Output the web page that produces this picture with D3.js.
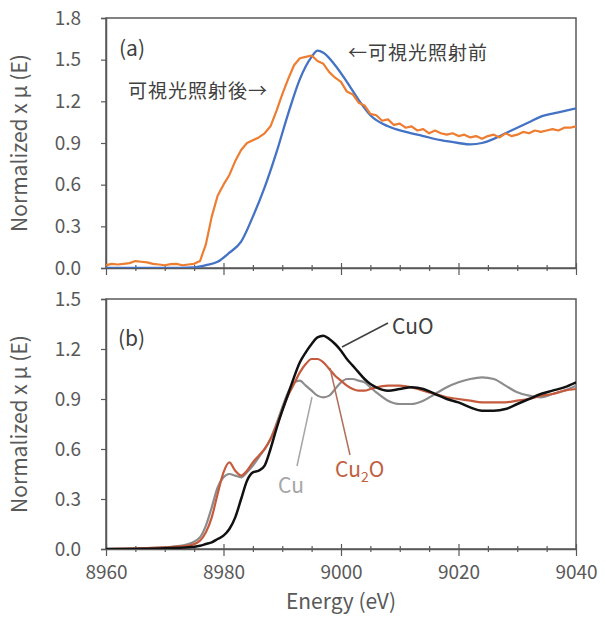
<!DOCTYPE html>
<html>
<head>
<meta charset="utf-8">
<script src="https://cdn.jsdelivr.net/npm/d3@7"></script>
<style>
  body { margin: 0; background: #fff; }
  text { font-family: "Noto Sans CJK JP", "Noto Sans", sans-serif; }
</style>
</head>
<body>
<svg id="chart" width="605" height="618"></svg>
<script>
// ---- data ----
const xTicks = [8960, 8980, 9000, 9020, 9040];
const yTicksA = [0, 0.3, 0.6, 0.9, 1.2, 1.5, 1.8];
const yTicksB = [0, 0.3, 0.6, 0.9, 1.2, 1.5];

// (a) before irradiation (blue)
const beforeE = [8960, 8965, 8970, 8975, 8977, 8979, 8981, 8983, 8985, 8987, 8989, 8991, 8993, 8995, 8996, 8997, 8999, 9001, 9003, 9005, 9008, 9011, 9014, 9017, 9020, 9022, 9024, 9026, 9028, 9030, 9032, 9034, 9037, 9040];
const beforeV = [0, 0, 0, 0.005, 0.02, 0.045, 0.11, 0.19, 0.37, 0.58, 0.83, 1.11, 1.36, 1.52, 1.565, 1.55, 1.46, 1.34, 1.21, 1.1, 1.02, 0.98, 0.95, 0.92, 0.9, 0.89, 0.9, 0.93, 0.97, 1.01, 1.05, 1.09, 1.12, 1.15];

// (a) after irradiation (orange, noisy)
const afterE = [8960, 8961, 8962, 8963, 8964, 8965, 8966, 8967, 8968, 8969, 8970, 8971, 8972, 8973, 8974, 8975, 8976, 8977, 8978, 8979, 8980, 8981, 8982, 8983, 8984, 8985, 8986, 8987, 8988, 8989, 8990, 8991, 8992, 8993, 8994, 8995, 8996, 8997, 8998, 8999, 9000, 9001, 9002, 9003, 9004, 9005, 9006, 9007, 9008, 9009, 9010, 9011, 9012, 9013, 9014, 9015, 9016, 9017, 9018, 9019, 9020, 9021, 9022, 9023, 9024, 9025, 9026, 9027, 9028, 9029, 9030, 9031, 9032, 9033, 9034, 9035, 9036, 9037, 9038, 9039, 9040];
const afterV = [0.02, 0.03, 0.025, 0.03, 0.035, 0.05, 0.045, 0.04, 0.03, 0.025, 0.02, 0.028, 0.03, 0.02, 0.025, 0.03, 0.05, 0.17, 0.37, 0.52, 0.6, 0.67, 0.77, 0.85, 0.9, 0.92, 0.94, 0.97, 1.02, 1.13, 1.25, 1.36, 1.46, 1.51, 1.52, 1.53, 1.49, 1.47, 1.41, 1.37, 1.34, 1.27, 1.25, 1.19, 1.17, 1.11, 1.1, 1.06, 1.07, 1.03, 1.04, 1.01, 1.02, 0.99, 1.0, 0.97, 0.99, 0.97, 0.96, 0.97, 0.95, 0.96, 0.94, 0.95, 0.93, 0.95, 0.96, 0.94, 0.97, 0.95, 0.96, 0.98, 0.97, 0.99, 0.98, 0.99, 1.0, 0.99, 1.01, 1.01, 1.02];

// (b) references
const refE = [8960, 8970, 8974, 8976, 8977, 8978, 8979, 8980, 8981, 8982, 8983, 8984, 8985, 8986, 8987, 8988, 8989, 8990, 8991, 8992, 8993, 8994, 8995, 8996, 8997, 8998, 8999, 9000, 9001, 9002, 9003, 9004, 9005, 9006, 9008, 9010, 9012, 9014, 9016, 9018, 9020, 9022, 9024, 9026, 9028, 9030, 9032, 9034, 9036, 9038, 9040];
const cuV   = [0, 0.01, 0.03, 0.07, 0.14, 0.25, 0.37, 0.43, 0.45, 0.44, 0.43, 0.46, 0.5, 0.55, 0.6, 0.66, 0.75, 0.85, 0.94, 1.0, 1.01, 0.98, 0.95, 0.92, 0.91, 0.92, 0.96, 1.0, 1.02, 1.02, 1.01, 1.0, 0.97, 0.94, 0.89, 0.87, 0.87, 0.89, 0.93, 0.97, 1.0, 1.02, 1.03, 1.02, 0.98, 0.94, 0.92, 0.91, 0.93, 0.95, 0.98];
const cu2oV = [0, 0.01, 0.02, 0.05, 0.1, 0.19, 0.33, 0.46, 0.52, 0.47, 0.44, 0.47, 0.52, 0.56, 0.6, 0.66, 0.74, 0.83, 0.92, 0.99, 1.06, 1.11, 1.14, 1.14, 1.12, 1.08, 1.04, 1.01, 0.98, 0.96, 0.95, 0.95, 0.96, 0.97, 0.98, 0.98, 0.97, 0.95, 0.93, 0.91, 0.9, 0.89, 0.88, 0.88, 0.88, 0.89, 0.9, 0.92, 0.93, 0.95, 0.96];
const cuoV  = [0, 0.005, 0.01, 0.02, 0.03, 0.04, 0.06, 0.08, 0.12, 0.19, 0.3, 0.41, 0.46, 0.47, 0.5, 0.6, 0.72, 0.83, 0.93, 1.03, 1.12, 1.18, 1.23, 1.27, 1.28, 1.26, 1.23, 1.19, 1.14, 1.1, 1.06, 1.02, 0.99, 0.97, 0.95, 0.96, 0.97, 0.96, 0.93, 0.9, 0.88, 0.85, 0.83, 0.83, 0.84, 0.87, 0.9, 0.93, 0.95, 0.97, 1.0];

// ---- layout ----
const svg = d3.select("#chart");
const frameCol = "#595959";
const textCol = "#595959";

const x = d3.scaleLinear().domain([8960, 9040]).range([106, 576]);
const yA = d3.scaleLinear().domain([0, 1.8]).range([268, 18]);
const yB = d3.scaleLinear().domain([0, 1.5]).range([549, 299]);

function drawPanel(y, yTicks, showX, id) {
  let g = svg.append("g");
  let [yb, yt] = y.range();

  g.append("clipPath").attr("id", id)
    .append("rect")
    .attr("x", x.range()[0]).attr("y", yt)
    .attr("width", x.range()[1] - x.range()[0]).attr("height", yb - yt);

  // frame
  g.append("rect")
    .attr("x", x.range()[0]).attr("y", yt)
    .attr("width", x.range()[1] - x.range()[0]).attr("height", yb - yt)
    .attr("fill", "none").attr("stroke", frameCol).attr("stroke-width", 1.5);

  // y axis
  let ya = g.append("g")
    .attr("transform", "translate(" + x.range()[0] + ",0)")
    .call(d3.axisLeft(y).tickValues(yTicks).tickSize(5).tickFormat(d3.format(".1f")));
  ya.select(".domain").attr("stroke", frameCol).attr("stroke-width", 1.5);
  ya.selectAll(".tick line").attr("stroke", frameCol).attr("stroke-width", 1.2);
  ya.selectAll(".tick text")
    .attr("x", -25).attr("fill", textCol)
    .style("font-size", "19px");

  // x axis (minor every 5 eV, major every 20 eV, crossing ticks)
  let xa = g.append("g")
    .attr("transform", "translate(0," + yb + ")")
    .call(d3.axisBottom(x).tickValues(d3.range(8960, 9041, 5)).tickSize(0)
      .tickFormat(d => (showX && xTicks.includes(d)) ? d : ""));
  xa.select(".domain").attr("stroke", frameCol).attr("stroke-width", 1.5);
  xa.selectAll(".tick line")
    .attr("stroke", frameCol).attr("stroke-width", 1.2)
    .attr("y1", d => xTicks.includes(d) ? -5 : -3)
    .attr("y2", d => xTicks.includes(d) ? 7 : 3);
  xa.selectAll(".tick text")
    .attr("y", 17).attr("fill", textCol)
    .style("font-size", "19px");

  // y title
  g.append("text")
    .attr("transform", "translate(27," + ((yb + yt) / 2) + ") rotate(-90)")
    .attr("text-anchor", "middle")
    .attr("fill", textCol)
    .style("font-size", "21px")
    .text("Normalized x μ (E)");

  return g;
}

let gA = drawPanel(yA, yTicksA, false, "clipA");
let gB = drawPanel(yB, yTicksB, true, "clipB");

function addLine(g, y, xs, vs, color, width, curve, clip) {
  let pts = xs.map((e, i) => [e, vs[i]]);
  let line = d3.line().x(d => x(d[0])).y(d => y(d[1])).curve(curve);
  g.append("path")
    .datum(pts)
    .attr("clip-path", "url(#" + clip + ")")
    .attr("d", line)
    .attr("fill", "none")
    .attr("stroke", color)
    .attr("stroke-width", width)
    .attr("stroke-linejoin", "round");
}

// panel (a)
addLine(gA, yA, beforeE, beforeV, "#4472C4", 2.3, d3.curveMonotoneX, "clipA");
addLine(gA, yA, afterE, afterV, "#ED7D31", 2.2, d3.curveLinear, "clipA");

// panel (b)
addLine(gB, yB, refE, cuV, "#8C8C8C", 2.2, d3.curveMonotoneX, "clipB");
addLine(gB, yB, refE, cu2oV, "#C55A3C", 2.2, d3.curveMonotoneX, "clipB");
addLine(gB, yB, refE, cuoV, "#111111", 2.5, d3.curveMonotoneX, "clipB");

// panel labels
svg.append("text").attr("x", 119).attr("y", 56).attr("fill", "#404040")
  .style("font-size", "21px").text("(a)");
svg.append("text").attr("x", 118).attr("y", 346).attr("fill", "#404040")
  .style("font-size", "21px").text("(b)");

// annotations (a)
svg.append("text").attr("x", 128).attr("y", 98).attr("fill", "#404040")
  .style("font-size", "19px").style("letter-spacing", "1px").text("可視光照射後→");
svg.append("text").attr("x", 348).attr("y", 60).attr("fill", "#404040")
  .style("font-size", "19px").style("letter-spacing", "1px").text("←可視光照射前");

// annotations (b)
svg.append("line").attr("x1", 342).attr("y1", 347).attr("x2", 388).attr("y2", 323)
  .attr("stroke", "#404040").attr("stroke-width", 1.5);
svg.append("text").attr("x", 392).attr("y", 334).attr("fill", "#404040")
  .style("font-size", "21px").text("CuO");

svg.append("line").attr("x1", 330).attr("y1", 368).attr("x2", 350).attr("y2", 455)
  .attr("stroke", "#B0705A").attr("stroke-width", 1.5);
let cu2o = svg.append("text").attr("x", 335).attr("y", 477).attr("fill", "#C0603F")
  .style("font-size", "21px");
cu2o.append("tspan").text("Cu");
cu2o.append("tspan").attr("dy", 5).style("font-size", "14px").text("2");
cu2o.append("tspan").attr("dy", -5).text("O");

svg.append("line").attr("x1", 312).attr("y1", 397).attr("x2", 297).attr("y2", 466)
  .attr("stroke", "#A6A6A6").attr("stroke-width", 1.5);
svg.append("text").attr("x", 278).attr("y", 493).attr("fill", "#A6A6A6")
  .style("font-size", "21px").text("Cu");

// x title
svg.append("text").attr("x", 341).attr("y", 609).attr("text-anchor", "middle")
  .attr("fill", textCol).style("font-size", "21px").text("Energy (eV)");
</script>
</body>
</html>
